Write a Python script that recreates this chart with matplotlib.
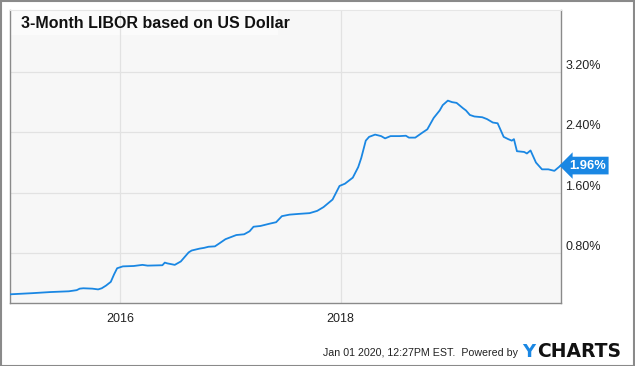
import matplotlib
matplotlib.use("Agg")
import matplotlib.pyplot as plt
import matplotlib.dates as mdates
import matplotlib.transforms as mtransforms
from matplotlib.patches import Rectangle
import pandas as pd

plt.rcParams['font.family'] = ['Liberation Sans', 'DejaVu Sans']

dates = ["2015-01-01", "2015-03-15", "2015-05-15", "2015-07-15", "2015-08-10", "2015-08-20",
         "2015-09-01", "2015-10-01", "2015-10-20", "2015-11-01", "2015-11-15", "2015-12-01",
         "2015-12-12", "2015-12-22", "2016-01-10", "2016-02-15", "2016-03-15", "2016-04-01",
         "2016-05-20", "2016-05-28", "2016-06-05", "2016-06-30", "2016-07-20", "2016-08-15",
         "2016-08-25", "2016-09-20", "2016-10-05", "2016-10-20", "2016-11-10", "2016-11-25",
         "2016-12-15", "2017-01-20", "2017-02-15", "2017-03-05", "2017-03-18", "2017-04-10",
         "2017-05-10", "2017-06-01", "2017-06-20", "2017-07-15", "2017-08-15", "2017-09-20",
         "2017-10-15", "2017-11-05", "2017-12-05", "2017-12-28", "2018-01-15", "2018-02-10",
         "2018-02-28", "2018-03-10", "2018-03-25", "2018-04-05", "2018-04-25", "2018-05-15",
         "2018-05-28", "2018-06-15", "2018-07-15", "2018-08-05", "2018-08-15", "2018-09-05",
         "2018-09-30", "2018-10-15", "2018-11-05", "2018-11-25", "2018-12-05", "2018-12-22",
         "2019-01-05", "2019-01-20", "2019-02-10", "2019-02-20", "2019-03-05", "2019-03-20",
         "2019-04-15", "2019-05-01", "2019-05-20", "2019-06-05", "2019-06-25", "2019-07-10",
         "2019-07-22", "2019-07-29", "2019-08-08", "2019-09-01", "2019-09-10", "2019-09-22",
         "2019-10-10", "2019-10-30", "2019-11-20", "2019-12-10", "2019-12-31"]
libor = [0.255, 0.27, 0.285, 0.295, 0.31, 0.33,
         0.335, 0.33, 0.32, 0.335, 0.37, 0.42,
         0.52, 0.60, 0.625, 0.63, 0.645, 0.635,
         0.64, 0.675, 0.665, 0.645, 0.69, 0.81,
         0.835, 0.86, 0.87, 0.885, 0.89, 0.93,
         0.985, 1.04, 1.05, 1.09, 1.15, 1.16,
         1.19, 1.21, 1.29, 1.31, 1.32, 1.33,
         1.36, 1.41, 1.51, 1.69, 1.72, 1.80,
         1.94, 2.06, 2.29, 2.34, 2.37, 2.35,
         2.32, 2.35, 2.35, 2.355, 2.33, 2.33,
         2.40, 2.44, 2.59, 2.69, 2.76, 2.82,
         2.80, 2.79, 2.72, 2.69, 2.63, 2.61,
         2.60, 2.575, 2.53, 2.52, 2.34, 2.31,
         2.29, 2.31, 2.15, 2.14, 2.12, 2.16,
         2.00, 1.91, 1.91, 1.89, 1.96]

y_ticks = [0.8, 1.6, 2.4, 3.2]
y_tick_labels = ["0.80%", "1.60%", "2.40%", "3.20%"]
x_ticks = ["2016-01-01", "2018-01-01"]
x_tick_labels = ["2016", "2018"]
last_label = "1.96%"
title = "3-Month LIBOR based on US Dollar"
footer = "Jan 01 2020, 12:27PM EST.  Powered by"

blue = "#1a87e3"

x = pd.to_datetime(dates)

fig = plt.figure(figsize=(6.35, 3.66), dpi=100)
fig.patch.set_facecolor("white")
ax = fig.add_axes([10 / 635, 1 - 303 / 366, 551 / 635, 293 / 366])
ax.set_facecolor("#f7f7f7")

ax.plot(x, libor, color=blue, lw=1.3, solid_joinstyle="round", zorder=3)

ax.set_xlim(pd.Timestamp("2015-01-01"), pd.Timestamp("2020-01-01"))
ax.set_ylim(0.14, 4.02)

ax.set_xticks(pd.to_datetime(x_ticks))
ax.set_xticklabels(x_tick_labels)
ax.set_yticks(y_ticks)
ax.set_yticklabels(y_tick_labels)
ax.yaxis.tick_right()
ax.tick_params(axis="both", length=0, labelsize=9, colors="#222222")
ax.tick_params(axis="x", pad=7)
ax.tick_params(axis="y", pad=3)
for lab in ax.get_yticklabels():
    lab.set_verticalalignment("bottom")

ax.set_axisbelow(True)
ax.grid(True, color="#e2e2e2", lw=0.9)
for s in ["left", "bottom", "right"]:
    ax.spines[s].set_color("#8a8a8a")
    ax.spines[s].set_linewidth(1.0)
ax.spines["top"].set_color("#e6e6e6")
ax.spines["top"].set_linewidth(0.8)

# title box (behind grid lines)
ax.add_patch(Rectangle((0, 1 - 25 / 293), 268 / 551, 25 / 293, transform=ax.transAxes,
                       facecolor="#fbfbfb", edgecolor="none", zorder=0.3))
fig.text(21 / 635, 1 - 28.5 / 366, title, fontsize=11.5, fontweight="bold",
         color="#111111", ha="left", va="baseline")

# last value label
trans = mtransforms.blended_transform_factory(ax.transAxes, ax.transData)
ax.text(1.0 + 8 / 551, libor[-1], last_label, transform=trans, ha="left", va="center",
        fontsize=9.3, fontweight="bold", color="white", clip_on=False, zorder=5,
        bbox=dict(boxstyle="larrow,pad=0.22", facecolor=blue, edgecolor="none"))

# footer
fig.text(518 / 635, 1 - 355.7 / 366, footer, fontsize=7.7, color="#222222",
         ha="right", va="baseline")
fig.text(522 / 635, 1 - 357.3 / 366, "Y", fontsize=13, fontweight="heavy",
         color=blue, ha="left", va="baseline", family="DejaVu Sans")
fig.text(537 / 635, 1 - 357.3 / 366, "CHARTS", fontsize=13.5, fontweight="heavy",
         color="#111111", ha="left", va="baseline", family="DejaVu Sans")

# outer border
fig.add_artist(Rectangle((0.5 / 635, 0.5 / 366), 1 - 1.5 / 635, 1 - 1.5 / 366,
                         transform=fig.transFigure, facecolor="none",
                         edgecolor="#8a8a8a", lw=1.5))

fig.savefig("out.png", dpi=100, facecolor="white")
